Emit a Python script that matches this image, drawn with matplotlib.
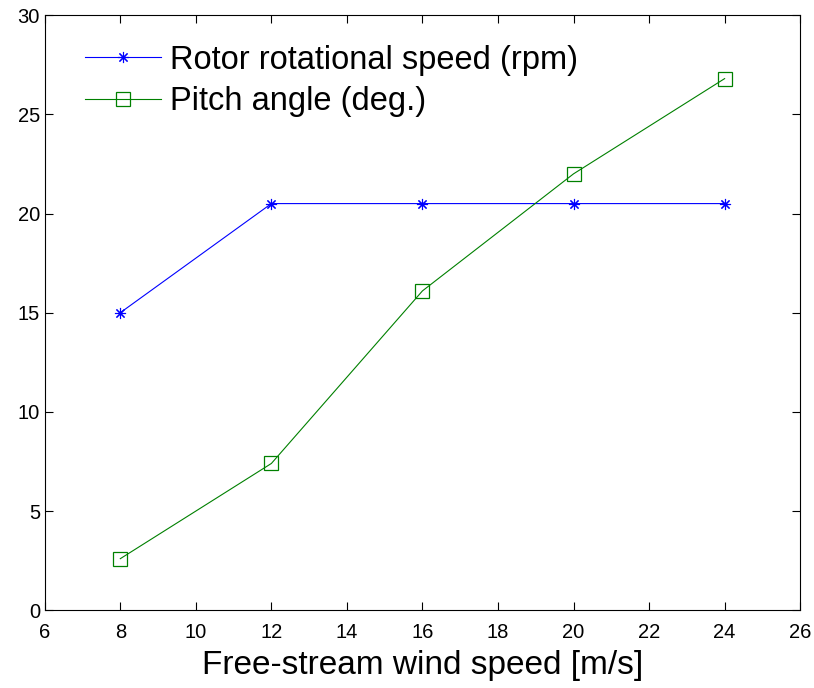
import matplotlib.pyplot as plt

plt.rcParams['font.family'] = ['Liberation Sans', 'DejaVu Sans']

wind_speed = [8, 12, 16, 20, 24]
rotor_speed = [15.0, 20.5, 20.5, 20.5, 20.5]
pitch_angle = [2.6, 7.4, 16.1, 22.0, 26.8]

fig = plt.figure(figsize=(8.14, 6.88), dpi=100)
ax = fig.add_axes([0.055, 0.113, 0.928, 0.865])

ax.plot(wind_speed, rotor_speed, color='blue', linewidth=0.8,
        marker=(8, 2, 0), markersize=8, markeredgewidth=0.8,
        label='Rotor rotational speed (rpm)')
ax.plot(wind_speed, pitch_angle, color=(0, 0.5, 0), linewidth=0.8,
        marker='s', markersize=10.5, markerfacecolor='none', markeredgewidth=0.9,
        label='Pitch angle (deg.)')

ax.set_xlim(6, 26)
ax.set_ylim(0, 30)
ax.set_xticks(range(6, 27, 2))
ax.set_yticks(range(0, 31, 5))
ax.tick_params(direction='in', top=True, right=True, labelsize=14.5, length=6, width=0.8)
ax.tick_params(axis='x', pad=9)
for s in ax.spines.values():
    s.set_linewidth(0.8)

ax.set_xlabel('Free-stream wind speed [m/s]', fontsize=24, labelpad=6)
ax.legend(loc='upper left', frameon=False, fontsize=23.5, numpoints=1,
          handlelength=2.3, handletextpad=0.3, labelspacing=0.33,
          borderaxespad=0.5, bbox_to_anchor=(0.015, 1.0))

plt.savefig('out.png')
